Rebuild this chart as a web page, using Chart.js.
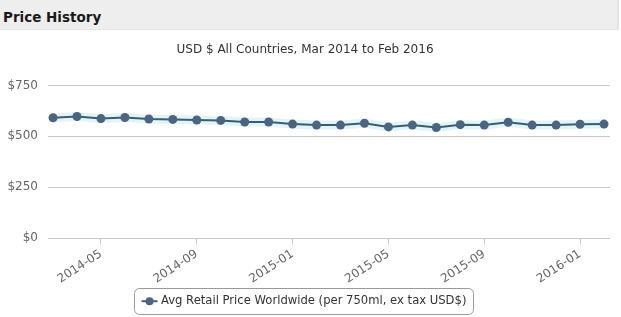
<!DOCTYPE html>
<html>
<head>
<meta charset="utf-8">
<script src="https://cdn.jsdelivr.net/npm/chart.js@4/dist/chart.umd.min.js"></script>
<style>
  html, body { margin: 0; padding: 0; background: #fff; }
  #wrap { position: relative; width: 621px; height: 317px; overflow: hidden; }
  #hdr { position: absolute; left: 0; top: 0; width: 619px; height: 30px; background: #eeeeee;
         border-right: 2px solid #e2e2e2; border-bottom: 1px solid #e6e6e6;
         font: bold 13.5px "DejaVu Sans", sans-serif; color: #1a1a1a; line-height: 30px; padding-left: 3px; padding-top: 2px; box-sizing: border-box; }
  canvas { position: absolute; left: 0; top: 0; }
</style>
</head>
<body>
<div id="wrap">
  <canvas id="c" width="621" height="317"></canvas>
  <div id="hdr">Price History</div>
</div>
<script>
const months = ["2014-03","2014-04","2014-05","2014-06","2014-07","2014-08","2014-09","2014-10","2014-11","2014-12",
                "2015-01","2015-02","2015-03","2015-04","2015-05","2015-06","2015-07","2015-08","2015-09","2015-10",
                "2015-11","2015-12","2016-01","2016-02"];
const avgPrice = [591,597,587,592,585,583,580,578,570,570,560,555,555,564,546,555,543,557,555,569,555,555,559,560];
const tickLabels = ["2014-05","2014-09","2015-01","2015-05","2015-09","2016-01"];
const yTicks = [0,250,500,750];
const seriesName = "Avg Retail Price Worldwide (per 750ml, ex tax USD$)";
const chartTitle = "USD $ All Countries, Mar 2014 to Feb 2016";

const pts = avgPrice.map((v, i) => ({ x: i, y: v }));
const tickIdx = tickLabels.map(l => months.indexOf(l));

const legendDeco = {
  id: 'legendDeco',
  afterDraw(chart) {
    const lg = chart.legend;
    if (!lg || !lg.legendHitBoxes || !lg.legendHitBoxes.length) return;
    const hb = lg.legendHitBoxes[0];
    const ctx = chart.ctx;
    ctx.save();
    const x = hb.left - 10, y = hb.top - 7, w = hb.width + 16, h = hb.height + 14, r = 5;
    ctx.strokeStyle = '#9a9a9a';
    ctx.lineWidth = 1;
    ctx.beginPath();
    ctx.roundRect(Math.round(x) + 0.5, Math.round(y) + 0.5, Math.round(w), Math.round(h), r);
    ctx.stroke();
    const cy = hb.top + hb.height / 2;
    ctx.strokeStyle = '#44607a';
    ctx.lineWidth = 2;
    ctx.beginPath();
    ctx.moveTo(hb.left - 2, cy);
    ctx.lineTo(hb.left + 14, cy);
    ctx.stroke();
    ctx.fillStyle = '#4a6482';
    ctx.beginPath();
    ctx.arc(hb.left + 6, cy, 4, 0, Math.PI * 2);
    ctx.fill();
    ctx.restore();
  }
};

new Chart(document.getElementById('c'), {
  type: 'line',
  data: {
    datasets: [
      {
        label: '_glow',
        data: pts,
        order: 2,
        borderColor: 'rgba(170,225,232,0.35)',
        borderWidth: 9,
        pointRadius: 0,
        fill: false,
        tension: 0
      },
      {
        label: seriesName,
        data: pts,
        order: 1,
        borderColor: '#3f5b70',
        backgroundColor: '#4a6482',
        borderWidth: 2,
        pointRadius: 4.5,
        pointBackgroundColor: '#4a6482',
        pointBorderColor: '#4a6482',
        pointBorderWidth: 0,
        fill: false,
        tension: 0
      }
    ]
  },
  options: {
    responsive: false,
    animation: false,
    devicePixelRatio: 1,
    layout: { padding: { top: 30, left: 0, right: 11, bottom: 0 } },
    plugins: {
      title: {
        display: true,
        text: chartTitle,
        color: '#333',
        font: { family: 'DejaVu Sans', size: 12, weight: 'normal' },
        padding: { top: 13, bottom: 28 }
      },
      legend: {
        position: 'bottom',
        labels: {
          filter: item => item.text !== '_glow',
          color: '#333',
          font: { family: 'DejaVu Sans', size: 11.6 },
          boxWidth: 12,
          boxHeight: 8,
          usePointStyle: true,
          pointStyle: 'circle',
          generateLabels(chart) {
            const items = Chart.defaults.plugins.legend.labels.generateLabels(chart);
            items.forEach(it => { it.fillStyle = 'rgba(0,0,0,0)'; it.strokeStyle = 'rgba(0,0,0,0)'; });
            return items;
          },
          padding: 6
        }
      },
      tooltip: { enabled: false }
    },
    scales: {
      x: {
        type: 'linear',
        min: -0.21,
        max: 23.25,
        afterBuildTicks(axis) { axis.ticks = tickIdx.map(v => ({ value: v })); },
        ticks: {
          autoSkip: false,
          minRotation: 33,
          maxRotation: 33,
          color: '#666',
          font: { family: 'DejaVu Sans', size: 12 },
          padding: 3,
          callback: v => months[v]
        },
        grid: { drawOnChartArea: false, drawTicks: true, tickLength: 6, color: '#c8c8c8' },
        border: { display: false }
      },
      y: {
        min: 0,
        max: 750,
        afterBuildTicks(axis) { axis.ticks = yTicks.map(v => ({ value: v })); },
        afterFit(axis) { axis.width = 48; },
        ticks: {
          color: '#666',
          font: { family: 'DejaVu Sans', size: 12 },
          padding: 10,
          callback: v => '$' + v
        },
        grid: { color: '#c8c8c8', drawTicks: false },
        border: { display: false }
      }
    }
  },
  plugins: [legendDeco]
});
</script>
</body>
</html>
